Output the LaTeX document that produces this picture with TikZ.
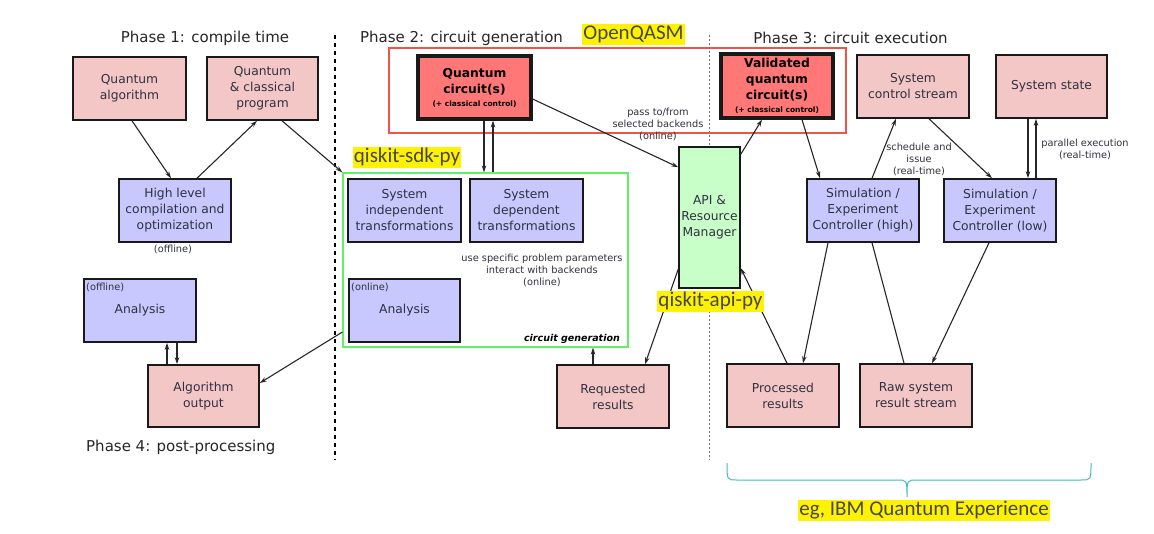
\documentclass[tikz,border=0pt]{standalone}
\usepackage{fontspec}
\setmainfont{DejaVu Sans}
\newfontfamily\calfont{Carlito}
\usetikzlibrary{arrows.meta,calc}
\definecolor{pinkf}{HTML}{F4C7C7}
\definecolor{lavf}{HTML}{C8C8FF}
\definecolor{greenf}{HTML}{C8FFC8}
\definecolor{redf}{HTML}{FF7777}
\definecolor{frred}{HTML}{EE5544}
\definecolor{frgreen}{HTML}{66EE66}
\definecolor{txt}{HTML}{303040}
\definecolor{bracec}{HTML}{44BBBB}
\begin{document}
\begin{tikzpicture}[x=1pt,y=-1pt,
  box/.style={draw=black!90, line width=1.6pt, minimum width=112pt, minimum height=63pt, align=center, inner sep=1pt, text=txt, font=\fontsize{12.3}{16}\selectfont},
  pinkbox/.style={box, fill=pinkf},
  lavbox/.style={box, fill=lavf},
  circbox/.style={box, fill=redf, line width=3.2pt, text=black, font=\bfseries\fontsize{12.3}{16}\selectfont},
  small/.style={font=\fontsize{9.8}{12}\selectfont, align=center, text=txt, inner sep=0pt},
  phase/.style={font=\fontsize{15}{18}\selectfont, text=black!85, inner sep=0pt},
  hl/.style={fill=yellow, font=\calfont\fontsize{21}{21}\selectfont, text=black!72, inner xsep=1pt, inner ysep=0pt, text height=15.5pt, text depth=5.5pt},
  arr/.style={-{Stealth[length=7pt,width=4.5pt]}, line width=1.1pt, draw=black!85},
  ln/.style={line width=1.1pt, draw=black!85}]
\useasboundingbox (0,0) rectangle (1154,533);

% phase separators
\draw[line width=2.4pt, dash pattern=on 4pt off 4pt] (335,35) -- (335,460);
\draw[line width=1pt, black!55, dash pattern=on 1.5pt off 2.5pt] (709,35) -- (709,460);

% phase titles
\node[phase] (p1) at (205,38) {Phase 1: compile time};
\node[phase] (p2) at (461.5,38) {Phase 2: circuit generation};
\node[phase] (p3) at (850.5,38) {Phase 3: circuit execution};
\node[phase, anchor=west] (p4) at (86,447) {Phase 4: post-processing};

% frames
\node[draw=frred, line width=1.5pt, minimum width=457pt, minimum height=85pt, inner sep=0pt] (qasm) at (617.5,90.5) {};
\node[draw=frgreen, line width=1.2pt, minimum width=285pt, minimum height=174pt, inner sep=0pt] (gen) at (485.5,260) {};

% phase 1
\node[pinkbox, minimum width=113pt] (qa) at (129.5,88.5) {Quantum\\algorithm};
\node[pinkbox, minimum width=111pt] (qcp) at (262.5,88.5) {Quantum\\\& classical\\program};
\node[lavbox] (hlc) at (175,210.5) {High level\\compilation and\\optimization};
\node[small] (off1) at (173,249) {(offline)};
\node[lavbox] (ana1) at (140,310.5) {Analysis};
\node[small, anchor=west] (off2) at (86,287) {(offline)};
\node[pinkbox, minimum width=111pt, minimum height=62pt] (algo) at (203.5,396) {Algorithm\\output};

% phase 2
\node[circbox, minimum width=113pt] (qc) at (474.5,87.5) {Quantum\\circuit(s)\\[-3pt]{\fontsize{7.5}{9}\selectfont (+ classical control)}};
\node[lavbox, minimum width=113pt] (sit) at (404.5,210.5) {System\\independent\\transformations};
\node[lavbox, minimum width=113pt] (sdt) at (526.5,210.5) {System\\dependent\\transformations};
\node[lavbox, minimum width=111pt] (ana2) at (404.5,310.5) {Analysis};
\node[small, anchor=west] (onl) at (351,287) {(online)};
\node[small] (usep) at (542,270) {use specific problem parameters\\interact with backends\\(online)};
\node[small, anchor=east, font=\bfseries\itshape\fontsize{9.5}{11}\selectfont, text=black] (cg) at (620,339) {circuit generation};
\node[pinkbox] (req) at (613,396.5) {Requested\\results};
\node[small] (pass) at (658,124) {pass to/from\\selected backends\\(online)};

% API
\node[box, fill=greenf, minimum width=61pt, minimum height=141pt, inner xsep=0pt] (api) at (709.5,217.5) {API \&\\Resource\\Manager};

% phase 3
\node[circbox, minimum height=64pt] (vqc) at (777,86) {Validated\\quantum\\circuit(s)\\[-3pt]{\fontsize{7.5}{9}\selectfont (+ classical control)}};
\node[pinkbox] (scs) at (913,86.5) {System\\control stream};
\node[pinkbox, minimum width=111pt] (ss) at (1051.5,86.5) {System state};
\node[lavbox] (simh) at (863,210.5) {Simulation /\\Experiment\\Controller (high)};
\node[lavbox] (siml) at (1000,210.5) {Simulation /\\Experiment\\Controller (low)};
\node[small] (sched) at (919,159) {schedule and\\issue\\(real-time)};
\node[small] (par) at (1085,149) {parallel execution\\(real-time)};
\node[pinkbox] (proc) at (783,395.5) {Processed\\results};
\node[pinkbox] (raw) at (916,395.5) {Raw system\\result stream};

% connectors phase 1
\draw[arr] ([xshift=2.5pt]qa.south) -- ([xshift=-4pt]hlc.north);
\draw[arr] ([xshift=22pt]hlc.north) -- ([xshift=-5.5pt]qcp.south);
\draw[arr] ([xshift=19.5pt]qcp.south) -- (gen.north west);
\draw[arr] ([xshift=-36.5pt]algo.north) -- ([xshift=27pt]ana1.south);
\draw[arr] ([xshift=37pt]ana1.south) -- ([xshift=-26.5pt]algo.north);
\draw[arr] ([yshift=-72pt]gen.west) -- ([yshift=13pt]algo.east);

% connectors phase 2
\draw[arr] ([xshift=9.5pt]qc.south) -- ([xshift=9.5pt]qc.south |- gen.north);
\draw[arr] ([xshift=18.5pt]qc.south |- gen.north) -- ([xshift=18.5pt]qc.south);
\draw[arr] ([yshift=-11.5pt]qc.east) -- ([yshift=-21pt]api.north west);
\draw[arr] ([yshift=-123pt]api.north west) -- ([xshift=32pt]req.north);
\draw[arr] ([xshift=-20pt]req.north) -- ([xshift=-20pt]req.north |- gen.south);

% connectors phase 3
\draw[arr] ([yshift=-8pt]api.north east) -- ([xshift=-15pt]vqc.south);
\draw[arr] ([xshift=25pt]vqc.south) -- ([xshift=-43pt]simh.north);
\draw[arr] ([xshift=9pt]simh.north) -- ([xshift=-17pt]scs.south);
\draw[arr] ([xshift=16pt]scs.south) -- ([xshift=-8pt]siml.north);
\draw[arr] ([xshift=-23.5pt]ss.south) -- ([xshift=28pt]siml.north);
\draw[arr] ([xshift=36pt]siml.north) -- ([xshift=-15.5pt]ss.south);
\draw[arr] ([xshift=-35pt]simh.south) -- ([xshift=20pt]proc.north);
\draw[ln] ([xshift=9pt]simh.south) -- ([xshift=-12pt]raw.north);
\draw[arr] ([xshift=-11pt]siml.south) -- ([xshift=16pt]raw.north);
\draw[arr] ([xshift=4pt]proc.north) -- ([yshift=-122pt]api.north east);

% brace
\draw[bracec, line width=1pt] (727,463) .. controls (727,480) .. (737,480) -- (897,480) .. controls (907,480) .. (907,497) .. controls (907,480) .. (917,480) -- (1081,480) .. controls (1091,480) .. (1091,463);

% highlighted labels
\node[hl] (lq) at (633.5,34) {OpenQASM};
\node[hl] (ls) at (407,157.5) {qiskit-sdk-py};
\node[hl] (la) at (710.5,301.5) {qiskit-api-py};
\node[hl] (li) at (924,510) {eg, IBM Quantum Experience};
\end{tikzpicture}
\end{document}
